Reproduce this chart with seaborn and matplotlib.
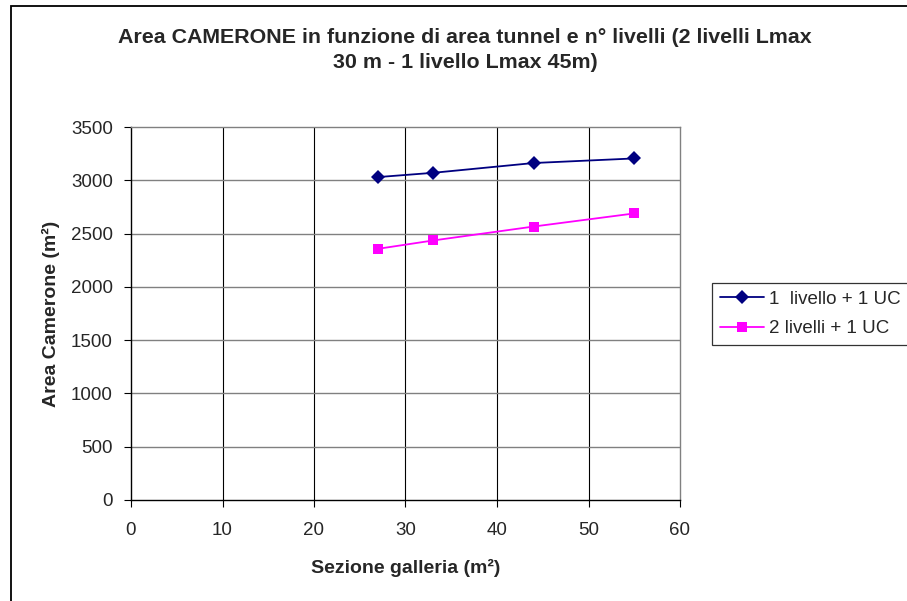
import matplotlib
matplotlib.use("Agg")
import matplotlib.pyplot as plt
from matplotlib.patches import Rectangle
import seaborn as sns
import pandas as pd

sezione = [27, 33, 44, 55]
un_livello = [3030, 3070, 3162, 3205]
due_livelli = [2357, 2435, 2566, 2689]
serie_nomi = ["1  livello + 1 UC", "2 livelli + 1 UC"]
x_ticks = [0, 10, 20, 30, 40, 50, 60]
y_ticks = [0, 500, 1000, 1500, 2000, 2500, 3000, 3500]

sns.set_theme(style="white")
plt.rcParams["font.family"] = ["Liberation Sans", "DejaVu Sans"]

df = pd.DataFrame({
    "Sezione": sezione * 2,
    "Area": un_livello + due_livelli,
    "Serie": [serie_nomi[0]] * len(sezione) + [serie_nomi[1]] * len(sezione),
})

fig = plt.figure(figsize=(9.07, 6.01), dpi=100)
ax = fig.add_axes([131 / 907, 1 - 500 / 601, (680 - 131) / 907, (500 - 127) / 601])

palette = {serie_nomi[0]: "#000080", serie_nomi[1]: "#FF00FF"}
markers = {serie_nomi[0]: "D", serie_nomi[1]: "s"}
sns.lineplot(data=df, x="Sezione", y="Area", hue="Serie", style="Serie",
             palette=palette, markers=markers, dashes=False, markersize=7,
             markeredgewidth=0, linewidth=1.3, ax=ax, legend=True)

ax.set_xlim(0, 60)
ax.set_ylim(0, 3500)
ax.set_xticks(x_ticks)
ax.set_yticks(y_ticks)
ax.tick_params(axis="both", labelsize=13.5, length=5, width=0.8, direction="out",
               color="black", bottom=True, left=True)
ax.tick_params(axis="x", pad=11)
ax.tick_params(axis="y", pad=8)

# gridlines: vertical dark, horizontal gray
for v in x_ticks[1:-1]:
    ax.axvline(v, color="black", lw=0.8, zorder=0)
for v in y_ticks[1:-1]:
    ax.axhline(v, color="#808080", lw=1.0, zorder=0)

for side in ["left", "bottom"]:
    ax.spines[side].set_color("black")
    ax.spines[side].set_linewidth(1.0)
for side in ["top", "right"]:
    ax.spines[side].set_color("#808080")
    ax.spines[side].set_linewidth(1.0)

ax.set_xlabel("Sezione galleria (m²)", fontsize=14, fontweight="bold", labelpad=14)
ax.set_ylabel("Area Camerone (m²)", fontsize=14, fontweight="bold", labelpad=8)

fig.text(465 / 907, 1 - 50 / 601,
         "Area CAMERONE in funzione di area tunnel e n° livelli (2 livelli Lmax\n30 m - 1 livello Lmax 45m)",
         ha="center", va="center", fontsize=15.4, fontweight="bold", linespacing=1.42)

ax.get_legend().remove()
handles, labels = ax.get_legend_handles_labels()
leg = fig.legend(handles, labels, loc="center left",
                 bbox_to_anchor=(712 / 907, 1 - 314 / 601), frameon=True,
                 fancybox=False, edgecolor="black", fontsize=13.5,
                 handlelength=2.35, handletextpad=0.3, borderpad=0.4,
                 labelspacing=0.65, borderaxespad=0)
leg.get_frame().set_linewidth(0.9)

# outer chart frame
fig.patches.append(Rectangle((11 / 907, -0.1), 1.2, 1.1 - 6 / 601, transform=fig.transFigure,
                             fill=False, edgecolor="black", lw=1.3))

fig.savefig("out.png", dpi=100, facecolor="white")
